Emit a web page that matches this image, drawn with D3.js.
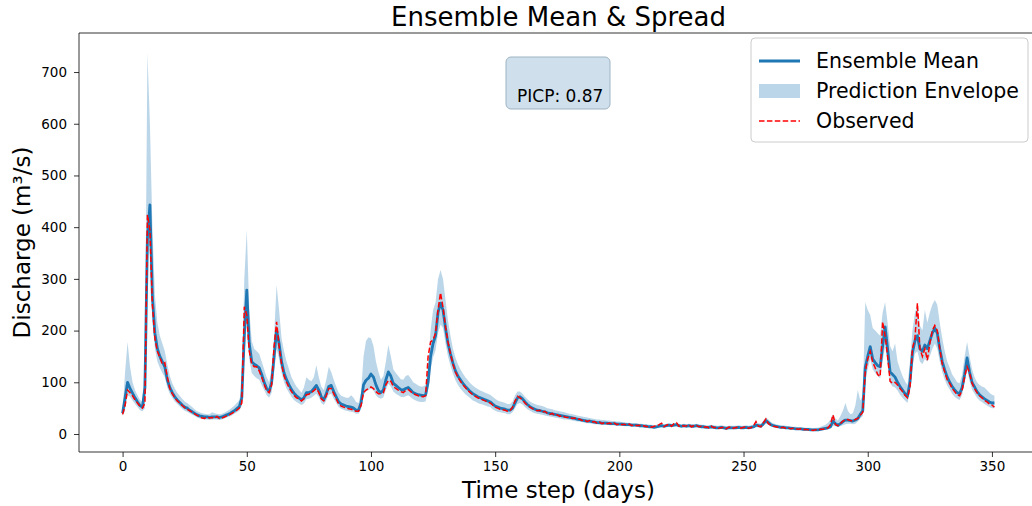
<!DOCTYPE html>
<html>
<head>
<meta charset="utf-8">
<script src="https://cdn.jsdelivr.net/npm/d3@7"></script>
<style>
  html, body { margin: 0; padding: 0; background: #fff; }
  svg { display: block; font-family: "DejaVu Sans", sans-serif; }
</style>
</head>
<body>
<svg id="chart" width="1032" height="506"></svg>
<script>
// ---- data ----
const meanValues = [
  40, 70, 100, 88, 79, 70, 62, 55, 52, 90,
  380, 443, 265, 195, 165, 150, 140, 130, 105, 90,
  80, 72, 66, 61, 56, 52, 50, 46, 43, 40,
  37, 35, 34, 33, 33, 32, 33, 33, 33, 32,
  33, 35, 37, 39, 42, 45, 49, 53, 70, 190,
  278, 175, 140, 135, 132, 128, 115, 100, 88, 82,
  100, 150, 201, 175, 140, 118, 105, 95, 86, 79,
  74, 70, 66, 70, 80, 80, 82, 88, 94, 85,
  72, 66, 78, 92, 94, 82, 72, 62, 58, 56,
  54, 53, 52, 50, 46, 46, 60, 95, 104, 108,
  116, 110, 95, 84, 80, 85, 105, 120, 112, 98,
  94, 90, 86, 85, 88, 90, 85, 80, 78, 76,
  75, 74, 76, 100, 150, 175, 190, 235, 253, 240,
  205, 175, 155, 137, 122, 112, 105, 98, 92, 87,
  82, 78, 75, 72, 70, 68, 66, 64, 62, 58,
  54, 52, 50, 49, 48, 46, 46, 50, 60, 70,
  72, 68, 62, 57, 53, 50, 48, 46, 45, 44,
  43, 41, 40, 39, 38, 37, 36, 35, 34, 33,
  32, 31, 30, 29, 28, 27, 26, 25, 25, 24,
  23, 22, 22, 21, 21, 21, 20, 20, 20, 19,
  19, 19, 18, 18, 18, 17, 17, 17, 16, 16,
  15, 15, 14, 14, 13, 14, 15, 16, 15, 16,
  17, 16, 17, 18, 16, 15, 16, 15, 16, 15,
  15, 16, 15, 14, 14, 13, 13, 14, 13, 12,
  12, 13, 12, 11, 12, 12, 12, 12, 13, 12,
  12, 13, 12, 13, 14, 17, 16, 15, 20, 26,
  22, 18, 16, 15, 14, 13, 13, 12, 12, 11,
  11, 10, 10, 10, 9, 9, 9, 8, 8, 8,
  8, 9, 10, 11, 12, 14, 25, 20, 17, 20,
  24, 27, 27, 26, 25, 27, 30, 38, 45, 129,
  150, 169, 145, 138, 132, 130, 170, 207, 165, 120,
  115, 110, 100, 92, 85, 78, 73, 100, 157, 180,
  190, 165, 160, 172, 165, 180, 195, 205, 195, 165,
  140, 124, 110, 100, 92, 85, 80, 78, 90, 115,
  147, 120, 100, 91, 82, 76, 72, 68, 65, 62,
  60, 60
];

const observedValues = [
  38, 55, 85, 80, 74, 66, 60, 54, 50, 60,
  424, 395, 250, 185, 160, 148, 135, 138, 110, 88,
  78, 70, 64, 60, 55, 51, 48, 45, 42, 39,
  36, 34, 31, 30, 33, 31, 32, 30, 34, 30,
  31, 33, 35, 37, 40, 43, 46, 50, 60, 246,
  230, 160, 135, 130, 130, 122, 110, 96, 84, 80,
  95, 170, 217, 170, 135, 112, 100, 90, 82, 75,
  70, 68, 64, 68, 76, 77, 80, 84, 88, 80,
  68, 64, 74, 88, 88, 78, 68, 58, 54, 52,
  50, 49, 48, 46, 44, 44, 55, 80, 85, 88,
  91, 88, 82, 78, 78, 80, 95, 104, 102, 92,
  88, 85, 82, 80, 84, 86, 82, 78, 76, 74,
  73, 72, 74, 150, 178, 182, 195, 240, 273, 245,
  208, 178, 155, 135, 120, 110, 102, 95, 90, 84,
  80, 76, 73, 70, 68, 66, 64, 62, 60, 56,
  52, 50, 48, 47, 46, 44, 45, 52, 64, 73,
  70, 66, 60, 55, 52, 49, 47, 45, 46, 42,
  44, 40, 38, 40, 36, 37, 34, 36, 33, 32,
  33, 30, 31, 28, 29, 26, 27, 24, 26, 23,
  24, 21, 23, 20, 22, 20, 21, 19, 21, 18,
  20, 18, 19, 17, 19, 16, 18, 16, 17, 15,
  16, 14, 15, 13, 15, 16, 18, 21, 14, 17,
  19, 15, 20, 22, 15, 17, 15, 16, 18, 14,
  16, 17, 14, 15, 13, 14, 12, 15, 12, 13,
  11, 12, 13, 10, 13, 14, 11, 13, 12, 11,
  13, 14, 11, 12, 16, 24, 15, 14, 22, 29,
  20, 17, 15, 14, 13, 12, 13, 11, 12, 10,
  11, 10, 9, 10, 8, 9, 8, 8, 7, 8,
  8, 9, 9, 10, 12, 18, 37, 18, 16, 20,
  25, 28, 28, 26, 25, 28, 30, 36, 42, 120,
  145, 160, 139, 128, 115, 111, 217, 190, 150, 102,
  98, 100, 95, 88, 82, 75, 70, 90, 165, 185,
  253, 165, 150, 165, 143, 175, 200, 210, 200, 165,
  135, 120, 105, 98, 88, 82, 76, 74, 85, 110,
  130, 118, 98, 88, 80, 74, 70, 65, 62, 58,
  56, 52
];

const lowerValues = [
  35, 48, 75, 72, 65, 58, 52, 46, 44, 50,
  330, 370, 220, 165, 140, 128, 118, 110, 90, 78,
  70, 63, 58, 53, 49, 45, 43, 40, 37, 35,
  32, 30, 29, 28, 28, 27, 28, 28, 28, 27,
  28, 30, 32, 34, 36, 39, 42, 45, 55, 150,
  215, 145, 118, 112, 108, 105, 95, 85, 75, 70,
  80, 120, 165, 145, 118, 100, 88, 80, 72, 66,
  62, 59, 56, 59, 67, 68, 70, 74, 78, 71,
  60, 56, 65, 76, 78, 68, 60, 52, 49, 47,
  45, 44, 43, 42, 39, 39, 48, 75, 82, 85,
  88, 84, 75, 70, 68, 71, 85, 97, 92, 82,
  78, 75, 72, 71, 73, 75, 71, 67, 65, 63,
  62, 62, 63, 85, 125, 148, 162, 195, 212, 205,
  175, 150, 132, 117, 104, 95, 88, 82, 77, 73,
  69, 65, 63, 60, 58, 57, 55, 53, 52, 48,
  45, 43, 42, 41, 40, 38, 38, 42, 50, 58,
  60, 57, 52, 48, 45, 42, 40, 39, 38, 37,
  36, 35, 34, 33, 32, 31, 30, 29, 28, 28,
  27, 26, 25, 24, 24, 23, 22, 21, 21, 20,
  19, 19, 18, 18, 18, 18, 17, 17, 17, 16,
  16, 16, 15, 15, 15, 14, 14, 14, 13, 13,
  13, 13, 12, 12, 11, 12, 12, 13, 12, 13,
  14, 13, 14, 15, 13, 12, 13, 12, 13, 12,
  12, 13, 12, 12, 11, 11, 11, 11, 11, 10,
  10, 11, 10, 9, 10, 10, 10, 10, 11, 10,
  10, 11, 10, 11, 11, 13, 13, 12, 16, 20,
  18, 15, 13, 12, 12, 11, 11, 10, 10, 9,
  9, 8, 8, 8, 7, 7, 7, 7, 6, 6,
  6, 7, 8, 8, 9, 10, 16, 15, 13, 15,
  17, 19, 20, 20, 19, 20, 24, 30, 35, 105,
  125, 145, 125, 118, 112, 108, 140, 170, 135, 98,
  92, 90, 84, 76, 70, 65, 60, 82, 130, 155,
  160, 140, 135, 145, 140, 150, 165, 175, 165, 140,
  120, 105, 94, 86, 78, 72, 68, 66, 76, 98,
  125, 102, 86, 78, 70, 65, 62, 58, 55, 52,
  50, 50
];

const upperValues = [
  45, 120, 178, 130, 100, 85, 75, 66, 62, 150,
  737, 600, 400, 270, 215, 190, 175, 160, 135, 112,
  98, 88, 80, 74, 68, 63, 60, 56, 52, 48,
  44, 42, 40, 39, 38, 38, 42, 40, 39, 38,
  39, 41, 44, 47, 51, 55, 60, 66, 90, 300,
  394, 240, 180, 165, 160, 155, 140, 125, 110, 100,
  125, 190, 288, 240, 185, 160, 140, 125, 110, 100,
  92, 86, 80, 90, 110, 105, 102, 110, 133, 110,
  92, 85, 105, 130, 120, 105, 92, 80, 74, 72,
  70, 70, 75, 70, 62, 60, 80, 150, 180, 187,
  185, 170, 140, 120, 105, 112, 140, 172, 150, 125,
  118, 112, 106, 105, 112, 114, 108, 100, 97, 94,
  92, 92, 95, 130, 200, 240, 255, 300, 317, 300,
  260, 220, 190, 165, 148, 135, 125, 117, 110, 104,
  98, 94, 90, 87, 84, 82, 80, 78, 76, 72,
  68, 65, 63, 62, 60, 58, 58, 63, 75, 82,
  82, 78, 72, 67, 63, 60, 58, 56, 55, 54,
  52, 50, 49, 48, 46, 45, 44, 43, 42, 40,
  39, 38, 37, 36, 35, 34, 33, 32, 31, 30,
  29, 28, 28, 27, 27, 26, 26, 25, 25, 24,
  24, 23, 23, 22, 22, 21, 21, 21, 20, 20,
  19, 19, 18, 18, 17, 18, 19, 20, 19, 20,
  21, 20, 21, 22, 20, 19, 20, 19, 20, 19,
  19, 20, 19, 18, 18, 17, 17, 18, 17, 16,
  16, 17, 16, 15, 16, 16, 16, 16, 17, 16,
  16, 17, 16, 17, 18, 22, 21, 20, 26, 32,
  28, 23, 21, 19, 18, 17, 17, 16, 15, 15,
  14, 14, 13, 13, 13, 12, 12, 12, 11, 12,
  12, 14, 16, 18, 22, 28, 38, 30, 26, 35,
  45, 60, 45, 38, 40, 55, 85, 65, 75, 255,
  240, 230, 205, 200, 195, 190, 235, 255, 215, 170,
  160, 175, 140, 125, 112, 102, 95, 140, 200, 235,
  250, 210, 200, 240, 215, 235, 250, 259, 250, 215,
  185, 160, 140, 128, 115, 108, 100, 98, 115, 150,
  178, 150, 125, 110, 100, 95, 92, 90, 85, 80,
  76, 74
];

const xTicks = [0, 50, 100, 150, 200, 250, 300, 350];
const yTicks = [0, 100, 200, 300, 400, 500, 600, 700];
const titleText = "Ensemble Mean & Spread";
const xLabelText = "Time step (days)";
const yLabelText = "Discharge (m³/s)";
const legendLabels = ["Ensemble Mean", "Prediction Envelope", "Observed"];
const picpText = "PICP: 0.87";

// ---- build ----
(function () {
  const n = Math.min(meanValues.length, observedValues.length, lowerValues.length, upperValues.length);
  const rows = d3.range(n).map(i => ({
    t: i, mean: meanValues[i], obs: observedValues[i], lo: lowerValues[i], hi: upperValues[i]
  }));

  const svg = d3.select("#chart");
  const pL = 79, pR = 1038, pT = 33, pB = 452;

  const x = d3.scaleLinear().domain([-17.55, 368.55]).range([pL, pR]);
  const y = d3.scaleLinear().domain([-34.8, 775.5]).range([pB, pT]);

  const blue = "#1f77b4";

  svg.append("defs").append("clipPath").attr("id", "clip")
    .append("rect").attr("x", pL).attr("y", pT).attr("width", pR - pL).attr("height", pB - pT);

  const plot = svg.append("g").attr("clip-path", "url(#clip)");

  plot.append("path")
    .datum(rows)
    .attr("fill", blue).attr("fill-opacity", 0.3)
    .attr("d", d3.area().x(d => x(d.t)).y0(d => y(d.lo)).y1(d => y(d.hi)));

  plot.append("path")
    .datum(rows)
    .attr("fill", "none").attr("stroke", blue).attr("stroke-width", 2.8)
    .attr("stroke-linejoin", "round")
    .attr("d", d3.line().x(d => x(d.t)).y(d => y(d.mean)));

  plot.append("path")
    .datum(rows)
    .attr("fill", "none").attr("stroke", "#ff0000").attr("stroke-width", 1.5)
    .attr("stroke-dasharray", "5.5,2.4")
    .attr("d", d3.line().x(d => x(d.t)).y(d => y(d.obs)));

  // axes
  const xAxis = svg.append("g").attr("transform", `translate(0,${pB})`)
    .call(d3.axisBottom(x).tickValues(xTicks).tickSize(5).tickPadding(4).tickFormat(d3.format("d")));
  const yAxis = svg.append("g").attr("transform", `translate(${pL},0)`)
    .call(d3.axisLeft(y).tickValues(yTicks).tickSize(5).tickPadding(7).tickFormat(d3.format("d")));
  [xAxis, yAxis].forEach(g => {
    g.select(".domain").remove();
    g.selectAll(".tick line").attr("stroke", "#000").attr("stroke-width", 0.8);
    g.selectAll(".tick text").attr("fill", "#000").style("font-size", "13.5px").style("font-family", "DejaVu Sans");
  });

  // spines
  const sp = svg.append("g").attr("stroke", "#000").attr("stroke-width", 0.8).attr("fill", "none");
  sp.append("line").attr("x1", pL).attr("x2", pL).attr("y1", pT).attr("y2", pB);
  sp.append("line").attr("x1", pL).attr("x2", pR).attr("y1", pB).attr("y2", pB);
  sp.append("line").attr("x1", pL).attr("x2", pR).attr("y1", pT).attr("y2", pT);
  sp.append("line").attr("x1", pR).attr("x2", pR).attr("y1", pT).attr("y2", pB);

  // title and labels
  svg.append("text").attr("x", (pL + pR) / 2).attr("y", 26)
    .attr("text-anchor", "middle").style("font-size", "26px").text(titleText);
  svg.append("text").attr("x", (pL + pR) / 2).attr("y", 498)
    .attr("text-anchor", "middle").style("font-size", "23px").text(xLabelText);
  svg.append("text").attr("transform", `translate(30,${(pT + pB) / 2}) rotate(-90)`)
    .attr("text-anchor", "middle").style("font-size", "23px").text(yLabelText);

  // PICP box
  svg.append("rect").attr("x", 506).attr("y", 57).attr("width", 104).attr("height", 52)
    .attr("rx", 5).attr("ry", 5)
    .attr("fill", "#cfe0ec").attr("stroke", "#9fb3c3").attr("stroke-width", 1);
  svg.append("text").attr("x", 517).attr("y", 102).style("font-size", "17px").text(picpText);

  // legend
  const lg = svg.append("g");
  lg.append("rect").attr("x", 751).attr("y", 38).attr("width", 277).attr("height", 104)
    .attr("rx", 4).attr("ry", 4)
    .attr("fill", "#fff").attr("fill-opacity", 0.8).attr("stroke", "#cccccc").attr("stroke-width", 1);
  const ly = [61, 91, 121];
  lg.append("line").attr("x1", 759).attr("x2", 800).attr("y1", ly[0]).attr("y2", ly[0])
    .attr("stroke", blue).attr("stroke-width", 2.8);
  lg.append("rect").attr("x", 759).attr("y", ly[1] - 7).attr("width", 41).attr("height", 14)
    .attr("fill", blue).attr("fill-opacity", 0.3);
  lg.append("line").attr("x1", 759).attr("x2", 800).attr("y1", ly[2]).attr("y2", ly[2])
    .attr("stroke", "#ff0000").attr("stroke-width", 1.5).attr("stroke-dasharray", "5.5,2.4");
  legendLabels.forEach((t, i) => {
    lg.append("text").attr("x", 816).attr("y", ly[i] + 7).style("font-size", "20.5px").text(t);
  });
})();
</script>
</body>
</html>
